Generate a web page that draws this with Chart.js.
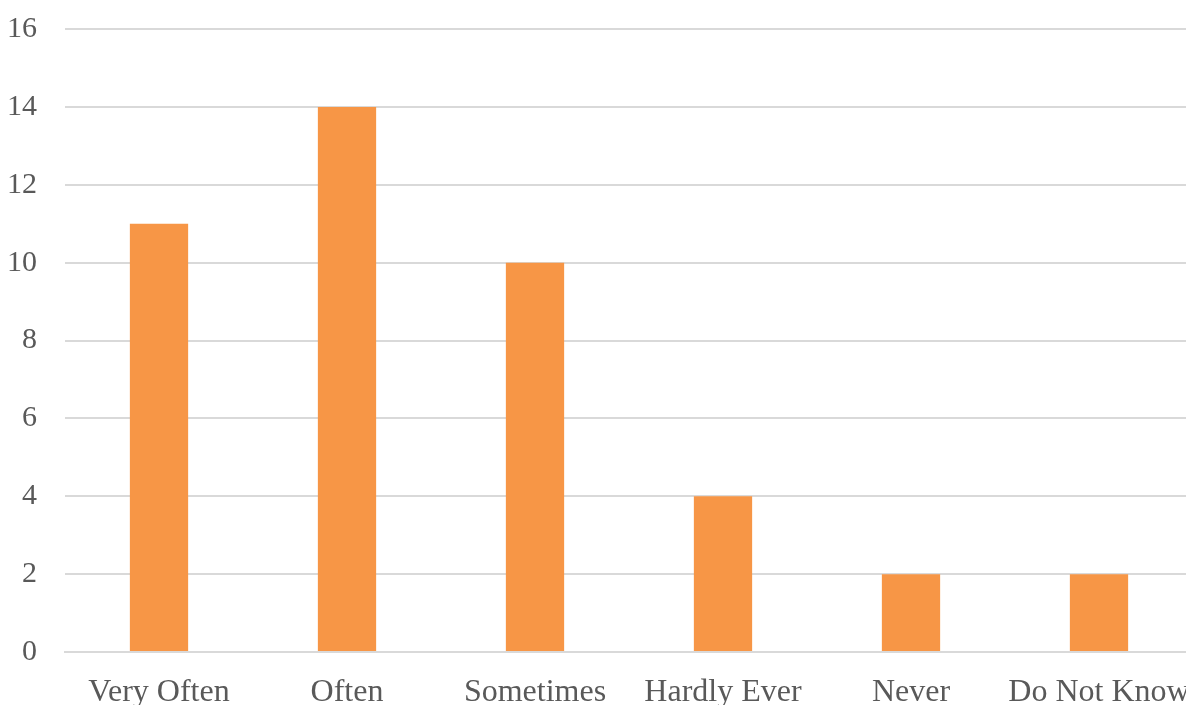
<!DOCTYPE html>
<html>
<head>
<meta charset="utf-8">
<script src="https://cdn.jsdelivr.net/npm/chart.js@4/dist/chart.umd.min.js"></script>
<style>
    html, body { margin: 0; padding: 0; background: #fff; overflow: hidden; }
    #wrap { width: 1200px; height: 705px; }
</style>
</head>
<body>
<div id="wrap"><canvas id="grafico" width="1200" height="705"></canvas></div>
<script>
const categorias = ["Very Often", "Often", "Sometimes", "Hardly Ever", "Never", "Do Not Know"];
const valores = [11, 14, 10, 4, 2, 2];
const ticksY = [0, 2, 4, 6, 8, 10, 12, 14, 16];

const familia = "'Liberation Serif', 'Times New Roman', serif";
const colorTexto = "#595959";
const colorGrilla = "#d9d9d9";

new Chart(document.getElementById("grafico"), {
    type: "bar",
    data: {
        labels: categorias,
        datasets: [{
            data: valores,
            backgroundColor: "#f79646",
            categoryPercentage: 1,
            barPercentage: 0.31
        }]
    },
    options: {
        responsive: false,
        animation: false,
        layout: { padding: { top: 29, right: 7, left: 1, bottom: 0 } },
        plugins: { legend: { display: false }, tooltip: { enabled: false } },
        scales: {
            x: {
                afterFit: axis => {
                    axis.height = 53;
                    axis.paddingLeft = 0;
                    axis.paddingRight = 0;
                },
                grid: { display: false, drawTicks: false },
                border: { color: colorGrilla, width: 2 },
                ticks: { color: colorTexto, font: { family: familia, size: 32 }, padding: 21, maxRotation: 0, autoSkip: false }
            },
            y: {
                min: 0,
                max: 16,
                afterBuildTicks: axis => { axis.ticks = ticksY.map(v => ({ value: v })); },
                afterFit: axis => {
                    axis.width = 64;
                    axis.paddingTop = 0;
                    axis.paddingBottom = 0;
                },
                grid: { color: colorGrilla, lineWidth: 2, drawTicks: false },
                border: { display: false },
                ticks: { color: colorTexto, font: { family: familia, size: 30 }, padding: 28 }
            }
        }
    }
});
</script>
</body>
</html>
